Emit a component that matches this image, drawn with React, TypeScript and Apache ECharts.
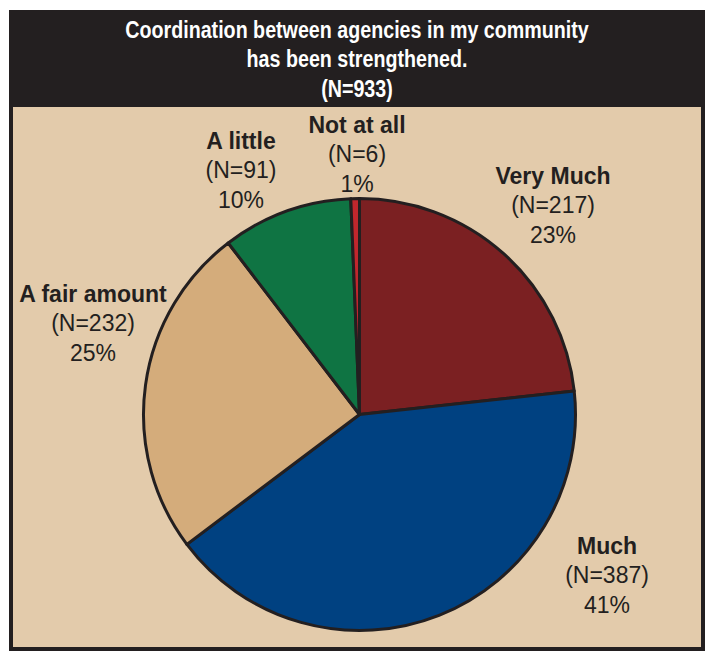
import React, { useEffect, useRef } from "react";
import * as echarts from "echarts";

const categories = ["Very Much", "Much", "A fair amount", "A little", "Not at all"];
const counts = [217, 387, 232, 91, 6];
const total = 933;
const titleLines = ["Coordination between agencies in my community", "has been strengthened.", "(N=933)"];

const sliceColors = ["#7b2022", "#004181", "#d4ac7b", "#0f7443", "#c1272d"];
const labelAnchors: [number, number][] = [
  [553, 205],
  [607, 575],
  [93, 323],
  [241, 170],
  [357, 154],
];

export default function App() {
  const ref = useRef<HTMLDivElement>(null);
  useEffect(() => {
    const chart = echarts.init(ref.current!, null, { renderer: "svg" });
    const dark = "#231f20";
    chart.setOption({
      animation: false,
      backgroundColor: "#ffffff",
      graphic: [
        {
          type: "rect",
          z: -10,
          silent: true,
          shape: { x: 11, y: 12, width: 692, height: 637 },
          style: { fill: "#e3cbab", stroke: dark, lineWidth: 4 },
        },
        {
          type: "rect",
          z: -9,
          silent: true,
          shape: { x: 9, y: 10, width: 696, height: 97 },
          style: { fill: dark },
        },
        {
          type: "text",
          z: 5,
          silent: true,
          x: 357,
          y: 15,
          scaleX: 0.82,
          style: {
            text: titleLines.join("\n"),
            fill: "#ffffff",
            font: "bold 24px 'Liberation Sans', Arial, sans-serif",
            lineHeight: 29.5,
            align: "center",
            verticalAlign: "top",
          },
        },
      ],
      series: [
        {
          type: "pie",
          center: [359.5, 414.5],
          radius: 216,
          startAngle: 90,
          clockwise: true,
          avoidLabelOverlap: false,
          itemStyle: { borderColor: dark, borderWidth: 3 },
          labelLine: { show: false },
          label: {
            show: true,
            position: "outside",
            formatter: (p: any) =>
              `{b|${p.name}}\n{n|(N=${p.value})}\n{n|${Math.round((p.value / total) * 100)}%}`,
            rich: {
              b: {
                fontFamily: "'Liberation Sans', Arial, sans-serif",
                fontWeight: "bold",
                fontSize: 23,
                color: dark,
                lineHeight: 29.5,
                align: "center",
              },
              n: {
                fontFamily: "'Liberation Sans', Arial, sans-serif",
                fontSize: 23,
                color: dark,
                lineHeight: 29.5,
                align: "center",
              },
            },
          },
          labelLayout: (params: any) => {
            const a = labelAnchors[params.dataIndex];
            return { x: a[0], y: a[1], align: "center", verticalAlign: "middle" };
          },
          data: categories.map((name, i) => ({
            name,
            value: counts[i],
            itemStyle: { color: sliceColors[i] },
          })),
        },
      ],
    });
    return () => chart.dispose();
  }, []);
  return (
    <div
      ref={ref}
      style={{ position: "absolute", left: 0, top: 0, width: 720, height: 655 }}
    />
  );
}
